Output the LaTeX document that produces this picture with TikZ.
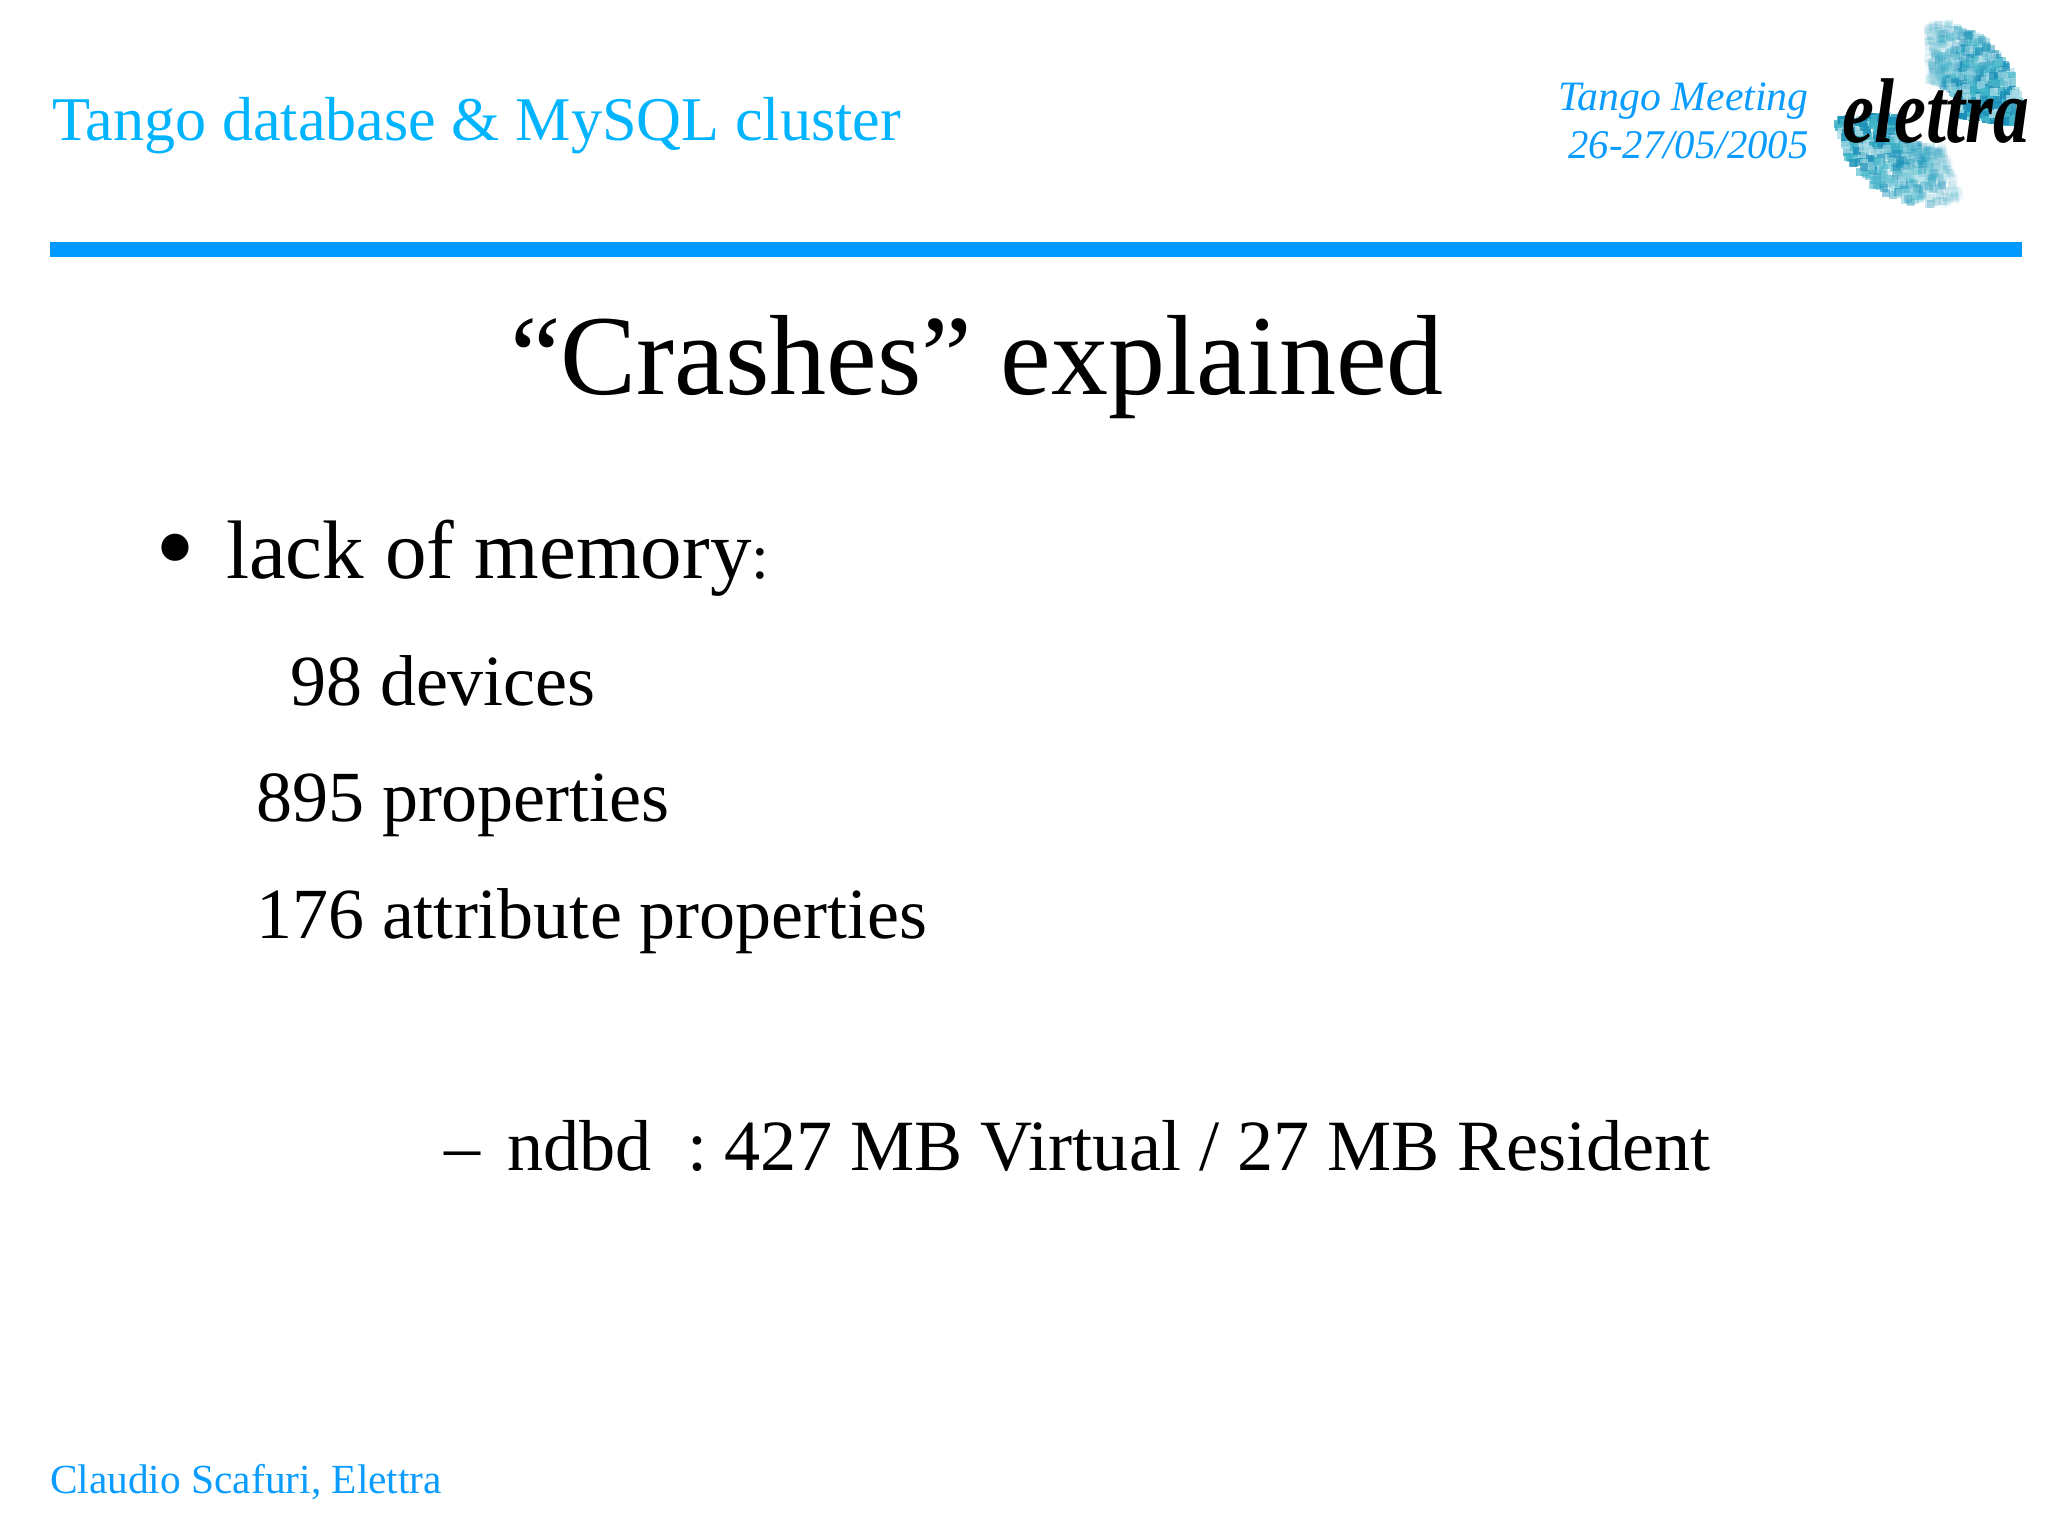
\documentclass[tikz,border=0pt]{standalone}
\usepackage{fontspec}
\setmainfont{Liberation Serif}
\definecolor{headblue}{HTML}{00B4FF}
\definecolor{barblue}{HTML}{0099FF}
\definecolor{dateblue}{HTML}{0A9CFF}
\definecolor{logoA}{HTML}{3FB4C8}
\definecolor{logoB}{HTML}{1C8FB8}
\definecolor{logoC}{HTML}{A9DCE6}
\tikzset{
  x=0.5pt,y=-0.5pt,
  txt/.style={anchor=base west,inner sep=0pt,outer sep=0pt,text=black},
  head/.style={txt,text=headblue},
  dateline/.style={anchor=base east,inner sep=0pt,text=dateblue,font=\itshape}
}
\begin{document}
\begin{tikzpicture}
\useasboundingbox[fill=white] (0,0) rectangle (2048,1535);
% logo
\pgfmathsetseed{42}
\foreach \i in {1,...,800}{
  \pgfmathsetmacro{\ang}{92-rnd*100}
  \pgfmathsetmacro{\rr}{30+rnd*60}
  \pgfmathsetmacro{\pick}{int(rnd*3)}
  \pgfmathsetmacro{\fade}{10+80*(92-\ang)/100}
  \ifnum\pick=0 \def\cc{logoA}\fi
  \ifnum\pick=1 \def\cc{logoB}\fi
  \ifnum\pick=2 \def\cc{logoC}\fi
  \fill[\cc,opacity=\fade/100] ({1930+\rr*cos(\ang)-4},{112-\rr*sin(\ang)-4}) rectangle +(8,8);
}
\foreach \i in {1,...,650}{
  \pgfmathsetmacro{\ang}{185+rnd*105}
  \pgfmathsetmacro{\rr}{35+rnd*58}
  \pgfmathsetmacro{\pick}{int(rnd*3)}
  \pgfmathsetmacro{\fade}{85-78*(\ang-185)/105}
  \ifnum\pick=0 \def\cc{logoA}\fi
  \ifnum\pick=1 \def\cc{logoB}\fi
  \ifnum\pick=2 \def\cc{logoC}\fi
  \fill[\cc,opacity=\fade/100] ({1930+\rr*cos(\ang)-4},{112-\rr*sin(\ang)-4}) rectangle +(8,8);
}
\node[anchor=base west,inner sep=0pt,xscale=.78,transform shape,font=\fontsize{46}{50}\selectfont\bfseries\itshape] (logo) at (1842,143) {elettra};
% header
\node[head,font=\fontsize{31.1}{36}\selectfont] (title) at (52,140.5) {Tango database \& MySQL cluster};
\node[dateline,font=\fontsize{20.9}{24}\selectfont\itshape] (meet) at (1809,111) {Tango Meeting};
\node[dateline,font=\fontsize{20.4}{24}\selectfont\itshape] (date) at (1809,159) {26-27/05/2005};
\fill[barblue] (50,242) rectangle (2022,257);
% heading
\node[txt,font=\fontsize{57}{66}\selectfont] (heading) at (510,394.5) {“Crashes” explained};
% body
\node[txt,font=\fontsize{57}{66}\selectfont] (bul) at (155,585) {•};
\node[txt,font=\fontsize{41.5}{48}\selectfont] (lack) at (226,578) {lack of memory\fontsize{32}{36}\selectfont:};
\node[txt,font=\fontsize{36}{42}\selectfont] (d) at (290,705) {98 devices};
\node[txt,font=\fontsize{36}{42}\selectfont] (p) at (256,821) {895 properties};
\node[txt,font=\fontsize{36}{42}\selectfont] (a) at (256,938) {176 attribute properties};
\node[txt,font=\fontsize{36}{42}\selectfont] (dash) at (444,1170.5) {–};
\node[txt,font=\fontsize{36.1}{42}\selectfont] (ndbd) at (507,1170.5) {ndbd\hspace{0.25em} :\hspace{0.23em}427 MB Virtual / 27 MB Resident};
% footer
\node[head,font=\fontsize{20.7}{24}\selectfont,text=dateblue] (foot) at (50,1493) {Claudio Scafuri, Elettra};
\end{tikzpicture}
\end{document}
